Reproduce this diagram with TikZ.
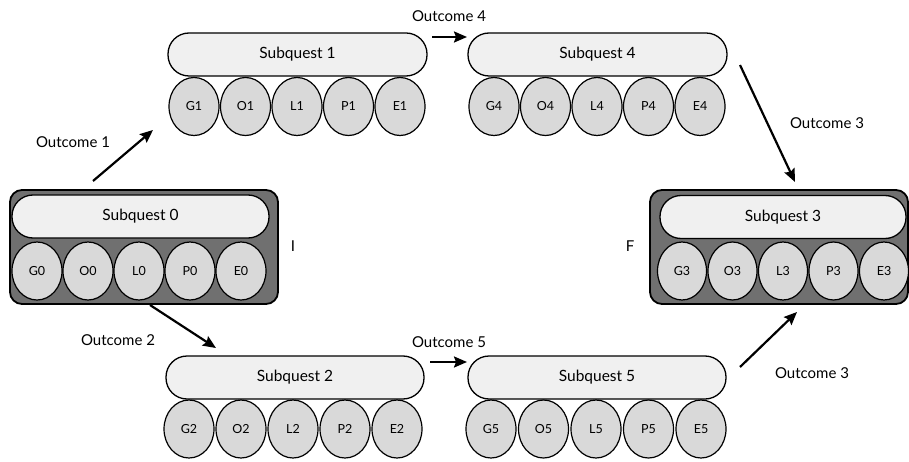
\documentclass[tikz,border=0pt]{standalone}
\usepackage{fontspec}
\setmainfont{Lato}
\usetikzlibrary{shapes.geometric,arrows.meta}
\definecolor{barfill}{HTML}{F0F0F0}
\definecolor{ellfill}{HTML}{D9D9D9}
\definecolor{boxfill}{HTML}{707070}
\tikzset{
  bar/.style={draw=black, line width=1.3pt, fill=barfill, rounded corners=21pt,
    minimum width=#1, minimum height=43pt, inner sep=0pt, font=\fontsize{15.5}{17}\selectfont},
  ell/.style={ellipse, draw=black, line width=1.2pt, fill=ellfill, minimum width=#1,
    minimum height=58pt, inner sep=0pt, font=\fontsize{12.5}{14}\selectfont},
  ell/.default=50pt,
  outerbox/.style={draw=black, line width=1.8pt, fill=boxfill, rounded corners=12pt,
    minimum width=#1, minimum height=114pt, inner sep=0pt},
  lbl/.style={font=\fontsize{15}{17}\selectfont, inner sep=0pt},
  arr/.style={line width=2.2pt, -{Stealth[length=13pt,width=11pt,inset=2pt]}}
}
\begin{document}
\begin{tikzpicture}[x=1pt,y=-1pt]
\useasboundingbox (0,0) rectangle (909,462);
\clip (0,0) rectangle (909,462);

% Group 0
\node[outerbox=268pt] (b0) at (144,247) {};
\node[bar=257pt] (s0) at (140.5,216.5) {Subquest 0};
\node[ell] (g0) at (37,271) {G0};
\node[ell] (o0) at (88,271) {O0};
\node[ell] (l0) at (139,271) {L0};
\node[ell] (p0) at (190,271) {P0};
\node[ell] (e0) at (241,271) {E0};

% Group 3
\node[outerbox=258pt] (b3) at (779,247) {};
\node[bar=246pt] (s3) at (783,217) {Subquest 3};
\node[ell=49pt] (g3) at (682,271) {G3};
\node[ell=49pt] (o3) at (732.5,271) {O3};
\node[ell=49pt] (l3) at (783,271) {L3};
\node[ell=49pt] (p3) at (833.5,271) {P3};
\node[ell=49pt] (e3) at (884,271) {E3};

% Group 1
\node[bar=259pt] (s1) at (297.5,54.5) {Subquest 1};
\node[ell] (g1) at (194,106.5) {G1};
\node[ell] (o1) at (245.5,106.5) {O1};
\node[ell] (l1) at (297,106.5) {L1};
\node[ell] (p1) at (348.5,106.5) {P1};
\node[ell] (e1) at (400,106.5) {E1};

% Group 4
\node[bar=259pt] (s4) at (597.5,54.5) {Subquest 4};
\node[ell] (g4) at (494,106.5) {G4};
\node[ell] (o4) at (545.5,106.5) {O4};
\node[ell] (l4) at (597,106.5) {L4};
\node[ell] (p4) at (648.5,106.5) {P4};
\node[ell] (e4) at (700,106.5) {E4};

% Group 2
\node[bar=258pt] (s2) at (295,377.5) {Subquest 2};
\node[ell] (g2) at (189,429) {G2};
\node[ell] (o2) at (241,429) {O2};
\node[ell] (l2) at (293,429) {L2};
\node[ell] (p2) at (345,429) {P2};
\node[ell] (e2) at (397,429) {E2};

% Group 5
\node[bar=258pt] (s5) at (597,377.5) {Subquest 5};
\node[ell] (g5) at (491,429) {G5};
\node[ell] (o5) at (543.5,429) {O5};
\node[ell] (l5) at (596,429) {L5};
\node[ell] (p5) at (648.5,429) {P5};
\node[ell] (e5) at (701,429) {E5};

% Arrow end points
\coordinate (a1s) at (93,181);   \coordinate (a1e) at (153,130);
\coordinate (a4s) at (432,37);   \coordinate (a4e) at (467,37);
\coordinate (a3s) at (740,65);   \coordinate (a3e) at (795,182);
\coordinate (a2s) at (150,305);  \coordinate (a2e) at (216,348);
\coordinate (a5s) at (430,362);  \coordinate (a5e) at (467,362);
\coordinate (a6s) at (740,367);  \coordinate (a6e) at (797,312);

\draw[arr] (a1s) -- (a1e);
\draw[arr] (a4s) -- (a4e);
\draw[arr] (a3s) -- (a3e);
\draw[arr] (a2s) -- (a2e);
\draw[arr] (a5s) -- (a5e);
\draw[arr] (a6s) -- (a6e);

% Labels
\node[lbl] (t1) at (73,142) {Outcome 1};
\node[lbl] (t4) at (449,16) {Outcome 4};
\node[lbl] (t3) at (827,123) {Outcome 3};
\node[lbl] (t2) at (118,340) {Outcome 2};
\node[lbl] (t5) at (449,342) {Outcome 5};
\node[lbl] (t6) at (812,373) {Outcome 3};
\node[lbl] (ti) at (293,246) {I};
\node[lbl] (tf) at (630,246) {F};
\end{tikzpicture}
\end{document}
